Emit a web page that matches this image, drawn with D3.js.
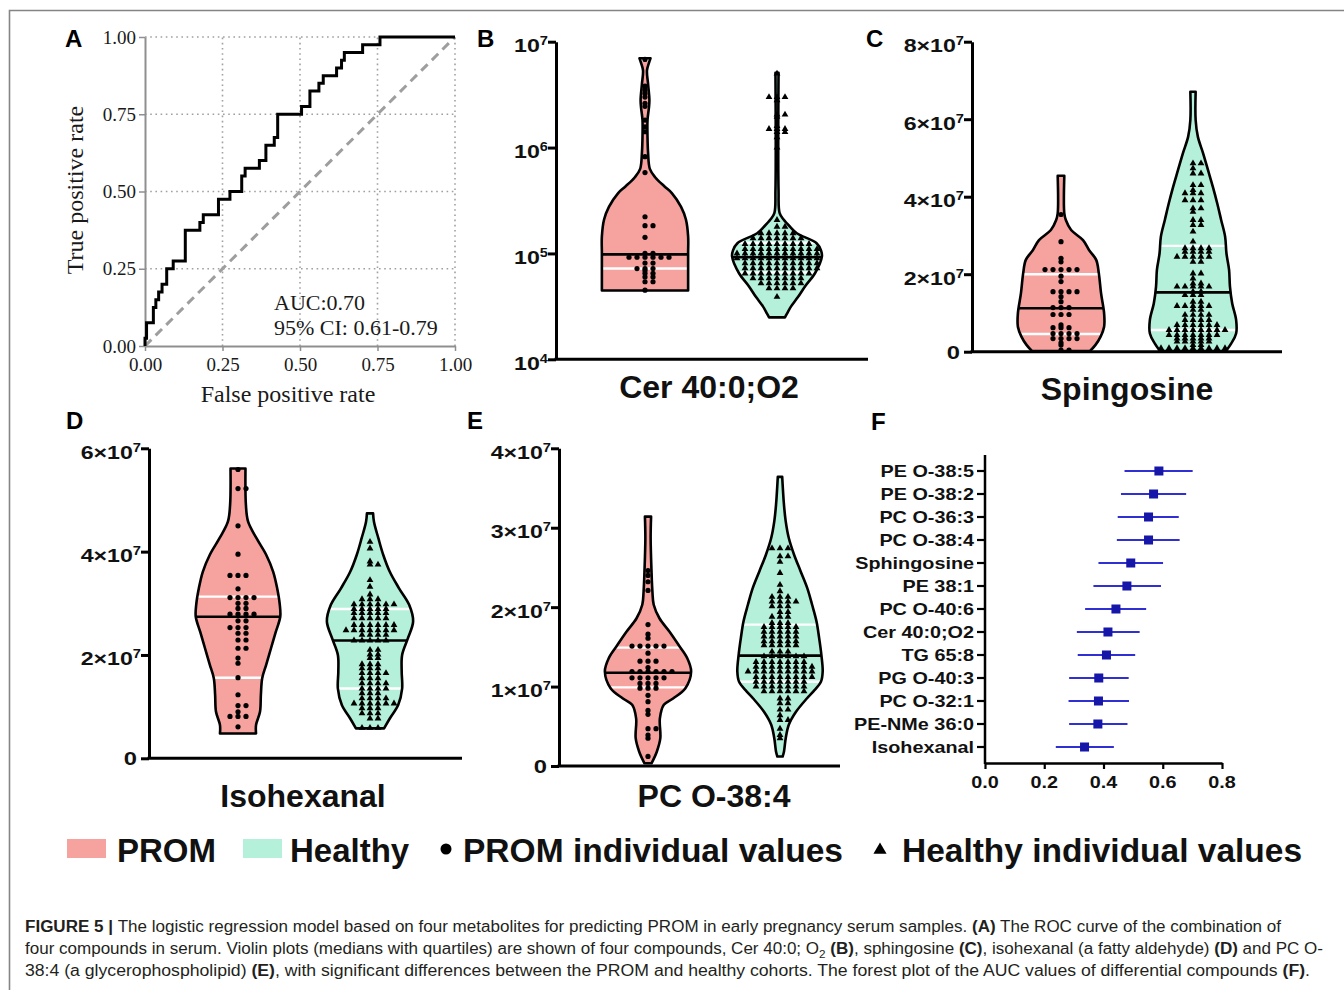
<!DOCTYPE html>
<html>
<head>
<meta charset="utf-8">
<script src="https://cdn.jsdelivr.net/npm/d3@7"></script>
<style>
  body { margin: 0; background: #fff; }
  svg { display: block; }
</style>
</head>
<body>
<svg id="figure" width="1344" height="990"></svg>
<script>
// ---------- data ----------

// A: ROC curve (vertices of the step curve)
const rocFpr = [0, 0, 0.005, 0.027, 0.035, 0.044, 0.055, 0.07, 0.091, 0.13, 0.177, 0.188, 0.237, 0.274, 0.312, 0.323, 0.369, 0.39, 0.417, 0.428, 0.505, 0.532, 0.561, 0.575, 0.618, 0.634, 0.643, 0.702, 0.758, 1];
const rocTpr = [0, 0.025, 0.075, 0.125, 0.15, 0.175, 0.2, 0.25, 0.275, 0.375, 0.4, 0.425, 0.475, 0.5, 0.55, 0.575, 0.6, 0.65, 0.675, 0.75, 0.775, 0.825, 0.85, 0.875, 0.9, 0.925, 0.95, 0.975, 1, 1];
const rocTicks = [0, 0.25, 0.5, 0.75, 1];
const rocNotes = ["AUC:0.70", "95% CI: 0.61-0.79"];

// violin groups
const groups = ["PROM", "Healthy"];

// violin outlines: [value, relative density]; quartiles: [q1, median, q3]; dots: [value, count in row]
// B: Cer 40:0;O2 (log axis)
const cerTicks = [1e4, 1e5, 1e6, 1e7];
const cerShapeProm = [[6.97e6, 0.125], [6.31e6, 0.09], [5.37e6, 0.045], [3.98e6, 0.07], [2.82e6, 0.1], [2.4e6, 0.09], [1.82e6, 0.057], [1.26e6, 0.057], [8.9e5, 0.07], [6.3e5, 0.11], [5.25e5, 0.23], [4.27e5, 0.45], [3.72e5, 0.61], [2.75e5, 0.82], [2.09e5, 0.93], [1.45e5, 0.98], [1.0e5, 0.98], [4.47e4, 0.98]];
const cerShapeHealthy = [[5.09e6, 0.035], [3.98e5, 0.035], [2.4e5, 0.06], [2.09e5, 0.15], [1.78e5, 0.3], [1.55e5, 0.45], [1.25e5, 0.9], [1.07e5, 1.0], [9.33e4, 1.02], [6.46e4, 0.86], [4.9e4, 0.64], [3.89e4, 0.48], [3.16e4, 0.32], [2.72e4, 0.23], [2.49e4, 0.18]];
const cerQuartiles = [[7.2e4, 9.8e4, 6.7e6], [6.6e4, 9.2e4, 1.26e5]];
const cerDotsProm = [[6.8e6, 1], [3.8e6, 1], [3.5e6, 1], [3.25e6, 1], [3.0e6, 1], [2.62e6, 1], [2.45e6, 1], [1.82e6, 1], [1.57e6, 1], [1.41e6, 1], [8.2e5, 1], [5.8e5, 1], [2.22e5, 1], [1.83e5, 2], [1.42e5, 1], [1.0e5, 2], [9.2e4, 6], [8.1e4, 2], [7.2e4, 3], [6.9e4, 1], [6.5e4, 2], [6.0e4, 2], [5.4e4, 2], [4.5e4, 1]];
const cerDotsHealthy = [[5.0e6, 1], [3.0e6, 3], [2.8e6, 1], [2.05e6, 2], [1.95e6, 1], [1.6e6, 1], [1.5e6, 3], [1.4e6, 2], [1.25e6, 1], [1.0e6, 1], [2.07e5, 1], [1.79e5, 2], [1.55e5, 5], [1.39e5, 7], [1.23e5, 9], [1.1e5, 10], [1.0e5, 11], [9.0e4, 11], [8.07e4, 10], [7.24e4, 10], [6.46e4, 9], [5.82e4, 7], [5.22e4, 6], [4.68e4, 4], [3.89e4, 1]];

// C: Spingosine
const spgTicks = [0, 2e7, 4e7, 6e7, 8e7];
const spgShapeProm = [[4.54e7, 0.075], [3.57e7, 0.075], [3.40e7, 0.11], [3.14e7, 0.23], [2.88e7, 0.5], [2.62e7, 0.64], [2.37e7, 0.8], [2.02e7, 0.86], [1.51e7, 0.91], [0.99e7, 0.98], [0.645e7, 0.98], [0.39e7, 0.9], [0.17e7, 0.78], [0.02e7, 0.66]];
const spgShapeHealthy = [[6.71e7, 0.06], [5.98e7, 0.06], [5.55e7, 0.11], [5.12e7, 0.23], [4.69e7, 0.34], [4.26e7, 0.45], [3.83e7, 0.55], [3.40e7, 0.64], [2.97e7, 0.73], [2.54e7, 0.76], [2.11e7, 0.82], [1.68e7, 0.84], [1.25e7, 0.89], [0.82e7, 0.98], [0.47e7, 0.98], [0.215e7, 0.87], [0.02e7, 0.75]];
const spgQuartiles = [[0.456e7, 1.12e7, 2.0e7], [0.56e7, 1.53e7, 2.73e7]];
const spgDotsProm = [[3.54e7, 1], [2.84e7, 1], [2.41e7, 1], [2.32e7, 1], [2.12e7, 5], [1.95e7, 1], [1.81e7, 1], [1.55e7, 4], [1.42e7, 1], [1.29e7, 1], [1.14e7, 3], [0.96e7, 3], [0.69e7, 1], [0.62e7, 3], [0.47e7, 4], [0.34e7, 4], [0.23e7, 1], [0.17e7, 1], [0.04e7, 2]];
const spgDotsHealthy = [[4.86e7, 2], [4.73e7, 1], [4.6e7, 2], [4.30e7, 2], [4.17e7, 1], [4.09e7, 3], [3.91e7, 3], [3.70e7, 2], [3.61e7, 1], [3.40e7, 2], [3.27e7, 2], [3.10e7, 1], [2.84e7, 1], [2.67e7, 4], [2.58e7, 4], [2.45e7, 5], [2.32e7, 2], [2.02e7, 2], [1.89e7, 1], [1.76e7, 2], [1.68e7, 5], [1.55e7, 2], [1.46e7, 3], [1.29e7, 2], [1.18e7, 5], [1.08e7, 2], [0.95e7, 4], [0.82e7, 4], [0.69e7, 6], [0.56e7, 8], [0.43e7, 7], [0.34e7, 5], [0.26e7, 5], [0.17e7, 2], [0.09e7, 9]];

// D: Isohexanal
const isoTicks = [0, 2e7, 4e7, 6e7];
const isoShapeProm = [[5.61e7, 0.17], [4.90e7, 0.18], [4.58e7, 0.23], [4.26e7, 0.42], [3.94e7, 0.64], [3.61e7, 0.8], [3.29e7, 0.89], [2.97e7, 0.95], [2.74e7, 0.96], [2.45e7, 0.86], [2.13e7, 0.75], [1.81e7, 0.64], [1.55e7, 0.55], [1.23e7, 0.52], [0.90e7, 0.5], [0.645e7, 0.41], [0.48e7, 0.41]];
const isoShapeHealthy = [[4.74e7, 0.07], [4.58e7, 0.09], [4.26e7, 0.19], [3.94e7, 0.3], [3.61e7, 0.45], [3.29e7, 0.66], [2.97e7, 0.89], [2.65e7, 0.98], [2.32e7, 0.86], [2.0e7, 0.73], [1.68e7, 0.72], [1.35e7, 0.73], [1.03e7, 0.64], [0.77e7, 0.45], [0.58e7, 0.32]];
const isoQuartiles = [[1.56e7, 2.74e7, 3.13e7], [1.35e7, 2.28e7, 2.89e7]];
const isoDotsProm = [[5.59e7, 1], [5.22e7, 2], [4.50e7, 1], [3.95e7, 1], [3.54e7, 3], [3.28e7, 1], [3.11e7, 4], [3.00e7, 2], [2.90e7, 2], [2.79e7, 4], [2.66e7, 2], [2.53e7, 3], [2.42e7, 2], [2.29e7, 2], [2.13e7, 2], [1.94e7, 1], [1.84e7, 1], [1.56e7, 1], [1.23e7, 1], [1.02e7, 2], [0.90e7, 1], [0.81e7, 3], [0.61e7, 1]];
const isoDotsHealthy = [[4.19e7, 1], [4.06e7, 1], [3.81e7, 1], [3.75e7, 2], [3.45e7, 1], [3.32e7, 1], [3.17e7, 1], [3.08e7, 3], [2.98e7, 6], [2.89e7, 5], [2.81e7, 5], [2.71e7, 5], [2.58e7, 6], [2.48e7, 7], [2.39e7, 4], [2.28e7, 5], [2.10e7, 2], [2.01e7, 2], [1.94e7, 2], [1.82e7, 3], [1.74e7, 3], [1.65e7, 4], [1.55e7, 3], [1.45e7, 4], [1.35e7, 4], [1.26e7, 3], [1.16e7, 4], [1.06e7, 6], [0.97e7, 3], [0.87e7, 3], [0.77e7, 2], [0.59e7, 3]];

// E: PC O-38:4
const pcTicks = [0, 1e7, 2e7, 3e7, 4e7];
const pcShapeProm = [[3.14e7, 0.07], [2.87e7, 0.06], [2.45e7, 0.08], [2.2e7, 0.1], [2.03e7, 0.13], [1.86e7, 0.26], [1.69e7, 0.49], [1.52e7, 0.7], [1.36e7, 0.89], [1.19e7, 0.98], [0.98e7, 0.85], [0.85e7, 0.57], [0.77e7, 0.36], [0.6e7, 0.27], [0.35e7, 0.28], [0.18e7, 0.2], [0.034e7, 0.08]];
const pcShapeHealthy = [[3.64e7, 0.05], [3.29e7, 0.09], [3.08e7, 0.13], [2.87e7, 0.2], [2.66e7, 0.32], [2.45e7, 0.47], [2.24e7, 0.62], [2.03e7, 0.73], [1.82e7, 0.83], [1.61e7, 0.89], [1.40e7, 0.94], [1.19e7, 0.97], [1.06e7, 0.93], [0.94e7, 0.76], [0.85e7, 0.61], [0.68e7, 0.36], [0.52e7, 0.2], [0.35e7, 0.13], [0.18e7, 0.09], [0.12e7, 0.06]];
const pcQuartiles = [[0.99e7, 1.175e7, 1.49e7], [1.06e7, 1.39e7, 1.78e7]];
const pcDotsProm = [[2.46e7, 1], [2.40e7, 1], [2.32e7, 1], [2.21e7, 1], [1.78e7, 1], [1.66e7, 1], [1.61e7, 1], [1.51e7, 5], [1.42e7, 1], [1.32e7, 3], [1.24e7, 1], [1.19e7, 6], [1.11e7, 5], [1.04e7, 3], [0.98e7, 3], [0.89e7, 1], [0.81e7, 1], [0.70e7, 1], [0.65e7, 1], [0.47e7, 2], [0.39e7, 1], [0.35e7, 1], [0.12e7, 1]];
const pcDotsHealthy = [[2.74e7, 3], [2.64e7, 2], [2.57e7, 1], [2.43e7, 1], [2.28e7, 1], [2.20e7, 1], [2.13e7, 3], [2.07e7, 4], [2.01e7, 3], [1.94e7, 2], [1.88e7, 3], [1.80e7, 3], [1.75e7, 5], [1.69e7, 5], [1.63e7, 5], [1.57e7, 5], [1.52e7, 5], [1.44e7, 3], [1.38e7, 6], [1.31e7, 7], [1.25e7, 8], [1.19e7, 9], [1.12e7, 8], [1.06e7, 7], [1.00e7, 7], [0.94e7, 6], [0.85e7, 2], [0.79e7, 2], [0.71e7, 2], [0.64e7, 1], [0.58e7, 2], [0.47e7, 1], [0.39e7, 1], [0.35e7, 1]];

// F: forest plot of AUC values
const forestLabels = ["PE O-38:5", "PE O-38:2", "PC O-36:3", "PC O-38:4", "Sphingosine", "PE 38:1", "PC O-40:6", "Cer 40:0;O2", "TG 65:8", "PG O-40:3", "PC O-32:1", "PE-NMe 36:0", "Isohexanal"];
const forestAuc = [0.587, 0.569, 0.552, 0.552, 0.492, 0.479, 0.442, 0.415, 0.41, 0.384, 0.383, 0.381, 0.336];
const forestLow = [0.471, 0.459, 0.448, 0.445, 0.383, 0.366, 0.338, 0.31, 0.313, 0.284, 0.282, 0.284, 0.239];
const forestHigh = [0.701, 0.679, 0.654, 0.657, 0.601, 0.594, 0.544, 0.522, 0.507, 0.485, 0.486, 0.481, 0.435];
const forestTicks = [0, 0.2, 0.4, 0.6, 0.8];

// legend + caption text
const legendItems = ["PROM", "Healthy", "PROM individual values", "Healthy individual values"];
const captionLines = [
  [["FIGURE 5 | ", "b"], ["The logistic regression model based on four metabolites for predicting PROM in early pregnancy serum samples. "], ["(A)", "b"], [" The ROC curve of the combination of"]],
  [["four compounds in serum. Violin plots (medians with quartiles) are shown of four compounds, Cer 40:0; O"], ["2", "sub"], [" "], ["(B)", "b"], [", sphingosine "], ["(C)", "b"], [", isohexanal (a fatty aldehyde) "], ["(D)", "b"], [" and PC O-"]],
  [["38:4 (a glycerophospholipid) "], ["(E)", "b"], [", with significant differences between the PROM and healthy cohorts. The forest plot of the AUC values of differential compounds "], ["(F)", "b"], ["."]]
];

// ---------- drawing ----------
const svg = d3.select("#figure");
const sans = "'Liberation Sans', Arial, Helvetica, sans-serif";
const serif = "'Liberation Serif', 'Times New Roman', serif";
const groupFill = ["#f6a3a0", "#b5f0da"];

// frame of the figure
svg.append("path")
  .attr("d", "M9.5,990 V10.5 H1344")
  .attr("fill", "none").attr("stroke", "#858585").attr("stroke-width", 1.6);

function panelLetter(t, x, y) {
  svg.append("text").attr("x", x).attr("y", y)
    .attr("font-family", sans).attr("font-weight", "bold").attr("font-size", 24)
    .text(t);
}

// ----- A: ROC -----
{
  const ax = d3.scaleLinear().domain([0, 1]).range([145, 455]);
  const ay = d3.scaleLinear().domain([0, 1]).range([346, 37]);
  const g = svg.append("g");

  // dotted grid
  g.selectAll(".vgrid").data(rocTicks.slice(1)).join("line")
    .attr("x1", d => ax(d)).attr("x2", d => ax(d)).attr("y1", ay(0)).attr("y2", ay(1))
    .attr("stroke", "#a0a0a0").attr("stroke-width", 1.6).attr("stroke-dasharray", "1.6,3.6");
  g.selectAll(".hgrid").data(rocTicks.slice(1)).join("line")
    .attr("x1", ax(0)).attr("x2", ax(1)).attr("y1", d => ay(d)).attr("y2", d => ay(d))
    .attr("stroke", "#a0a0a0").attr("stroke-width", 1.6).attr("stroke-dasharray", "1.6,3.6");

  const fmt = d3.format(".2f");
  const yAxis = g.append("g").attr("transform", `translate(${ax(0)},0)`)
    .call(d3.axisLeft(ay).tickValues(rocTicks).tickFormat(fmt).tickSize(6).tickSizeOuter(0).tickPadding(3));
  const xAxis = g.append("g").attr("transform", `translate(0,${ay(0)})`)
    .call(d3.axisBottom(ax).tickValues(rocTicks).tickFormat(fmt).tickSize(5).tickSizeOuter(0).tickPadding(7));
  [yAxis, xAxis].forEach(a => {
    a.attr("font-family", serif).attr("font-size", 19).attr("color", "#8f8f8f");
    a.select(".domain").attr("stroke-width", 2);
    a.selectAll(".tick line").attr("stroke-width", 1.5);
    a.selectAll(".tick text").attr("fill", "#1a1a1a");
  });

  // chance line
  g.append("line")
    .attr("x1", ax(0)).attr("y1", ay(0)).attr("x2", ax(1)).attr("y2", ay(1))
    .attr("stroke", "#9e9e9e").attr("stroke-width", 3).attr("stroke-dasharray", "9,6");

  // ROC step curve
  const line = d3.line().x(d => ax(d[0])).y(d => ay(d[1])).curve(d3.curveStepAfter);
  g.append("path").attr("d", line(d3.zip(rocFpr, rocTpr)))
    .attr("fill", "none").attr("stroke", "#000").attr("stroke-width", 3);

  g.selectAll(".note").data(rocNotes).join("text")
    .attr("x", 274).attr("y", (d, i) => 310 + i * 25)
    .attr("font-family", serif).attr("font-size", 22).attr("fill", "#1a1a1a")
    .text(d => d);

  g.append("text").attr("x", 288).attr("y", 402).attr("text-anchor", "middle")
    .attr("font-family", serif).attr("font-size", 24).attr("fill", "#1a1a1a")
    .text("False positive rate");
  g.append("text").attr("transform", "translate(83,190) rotate(-90)").attr("text-anchor", "middle")
    .attr("font-family", serif).attr("font-size", 24).attr("fill", "#1a1a1a")
    .text("True positive rate");
  panelLetter("A", 65, 47);
}

// ----- B-E: violin panels -----
const halfWidth = d3.scaleLinear().domain([0, 1]).range([0, 44]);

function drawViolinPanel(p) {
  const y = (p.log ? d3.scaleLog() : d3.scaleLinear()).domain(p.domain).range([p.bottom, p.top]);
  const x = d3.scalePoint().domain(groups).range([p.x0 + 89, p.x0 + 221]);
  const g = svg.append("g");

  p.shapes.forEach((shape, i) => {
    const cx = x(groups[i]);
    const area = d3.area()
      .y(d => y(d[0]))
      .x0(d => cx - halfWidth(d[1]))
      .x1(d => cx + halfWidth(d[1]))
      .curve(d3.curveCatmullRom.alpha(0.5));
    const clipId = `clip-${p.id}-${i}`;
    g.append("clipPath").attr("id", clipId).append("path").attr("d", area(shape));
    g.append("path").attr("d", area(shape)).attr("fill", groupFill[i]);

    const [q1, med, q3] = p.quartiles[i];
    const inner = g.append("g").attr("clip-path", `url(#${clipId})`);
    inner.selectAll(".quart").data([q1, q3]).join("line")
      .attr("x1", cx - 60).attr("x2", cx + 60)
      .attr("y1", d => y(d)).attr("y2", d => y(d))
      .attr("stroke", "#fff").attr("stroke-width", 2.4);
    inner.append("line")
      .attr("x1", cx - 60).attr("x2", cx + 60).attr("y1", y(med)).attr("y2", y(med))
      .attr("stroke", "#000").attr("stroke-width", 2.6);

    g.append("path").attr("d", area(shape))
      .attr("fill", "none").attr("stroke", "#000").attr("stroke-width", 2.6).attr("stroke-linejoin", "round");

    // individual values, spread in rows
    const pts = p.dots[i].flatMap(([v, n]) => d3.range(n).map(k => ({ v, k: k - Math.floor((n - 1) / 2) })));
    if (i === 0) {
      g.selectAll(`.dot${i}`).data(pts).join("circle")
        .attr("cx", d => cx + d.k * 8).attr("cy", d => y(d.v)).attr("r", 2.6).attr("fill", "#000");
    } else {
      const tri = d3.symbol(d3.symbolTriangle, 20);
      g.selectAll(`.tri${i}`).data(pts).join("path")
        .attr("d", tri).attr("transform", d => `translate(${cx + d.k * 8},${y(d.v)})`).attr("fill", "#000");
    }
  });

  // axes
  const yAxis = g.append("g").attr("transform", `translate(${p.x0},0)`)
    .call(d3.axisLeft(y).tickValues(p.ticks).tickFormat("").tickSize(8).tickSizeOuter(0));
  yAxis.attr("color", "#000");
  yAxis.select(".domain").attr("stroke-width", 3);
  yAxis.selectAll(".tick line").attr("stroke-width", 3);
  g.append("line").attr("x1", p.x0 - 1.5).attr("x2", p.xEnd).attr("y1", p.bottom).attr("y2", p.bottom)
    .attr("stroke", "#000").attr("stroke-width", 3);

  // tick labels (the source lettering is wide, hence the horizontal stretch)
  const lab = g.append("g").attr("font-family", sans).attr("font-weight", "bold").attr("font-size", 19).attr("fill", "#111");
  p.ticks.forEach(t => {
    const txt = lab.append("text").attr("text-anchor", "end");
    if (t === 0) {
      txt.attr("transform", `translate(${p.x0 - 12},${y(t) + 7}) scale(1.25,1)`).text("0");
    } else {
      const e = Math.floor(Math.log10(t) + 1e-9);
      const m = Math.round(t / 10 ** e);
      txt.attr("transform", `translate(${p.x0 - 8},${y(t) + 10.5}) scale(1.22,1)`);
      txt.append("tspan").text(p.log ? "10" : `${m}×10`);
      txt.append("tspan").attr("dy", -7).attr("font-size", 12).text(e);
    }
  });

  g.append("text").attr("x", p.labelX).attr("y", p.labelY).attr("text-anchor", "middle")
    .attr("font-family", sans).attr("font-weight", "bold").attr("font-size", 32).attr("fill", "#111")
    .text(p.name);
  panelLetter(p.letter, p.letterX, p.letterY);
}

drawViolinPanel({ id: "b", letter: "B", letterX: 477, letterY: 47, name: "Cer 40:0;O2", labelX: 709, labelY: 398,
  log: true, domain: [1e4, 1e7], ticks: cerTicks, x0: 556, xEnd: 868, top: 41.7, bottom: 359.3,
  shapes: [cerShapeProm, cerShapeHealthy], quartiles: cerQuartiles, dots: [cerDotsProm, cerDotsHealthy] });
drawViolinPanel({ id: "c", letter: "C", letterX: 866, letterY: 47, name: "Spingosine", labelX: 1127, labelY: 400,
  log: false, domain: [0, 8e7], ticks: spgTicks, x0: 972, xEnd: 1282, top: 41.7, bottom: 351.7,
  shapes: [spgShapeProm, spgShapeHealthy], quartiles: spgQuartiles, dots: [spgDotsProm, spgDotsHealthy] });
drawViolinPanel({ id: "d", letter: "D", letterX: 66, letterY: 429, name: "Isohexanal", labelX: 303, labelY: 807,
  log: false, domain: [0, 6e7], ticks: isoTicks, x0: 149, xEnd: 462, top: 448.3, bottom: 758.3,
  shapes: [isoShapeProm, isoShapeHealthy], quartiles: isoQuartiles, dots: [isoDotsProm, isoDotsHealthy] });
drawViolinPanel({ id: "e", letter: "E", letterX: 467, letterY: 429, name: "PC O-38:4", labelX: 714, labelY: 807,
  log: false, domain: [0, 4e7], ticks: pcTicks, x0: 559, xEnd: 840, top: 448.3, bottom: 766,
  shapes: [pcShapeProm, pcShapeHealthy], quartiles: pcQuartiles, dots: [pcDotsProm, pcDotsHealthy] });

// ----- F: forest plot -----
{
  const fx = d3.scaleLinear().domain([0, 0.8]).range([985, 1222]);
  const fy = d3.scalePoint().domain(forestLabels).range([471, 747]);
  const g = svg.append("g");
  const rows = forestLabels.map((l, i) => ({ l, auc: forestAuc[i], lo: forestLow[i], hi: forestHigh[i] }));

  g.append("line").attr("x1", 985).attr("x2", 985).attr("y1", 455).attr("y2", 764)
    .attr("stroke", "#000").attr("stroke-width", 2.5);
  g.selectAll(".ytick").data(forestLabels).join("line")
    .attr("x1", 977).attr("x2", 985).attr("y1", d => fy(d)).attr("y2", d => fy(d))
    .attr("stroke", "#000").attr("stroke-width", 2.2);
  g.selectAll(".ylab").data(forestLabels).join("text")
    .attr("transform", d => `translate(974,${fy(d) + 6}) scale(1.2,1)`)
    .attr("text-anchor", "end").attr("font-family", sans).attr("font-weight", "bold").attr("font-size", 16.5).attr("fill", "#111")
    .text(d => d);

  const xAxis = g.append("g").attr("transform", "translate(0,763)")
    .call(d3.axisBottom(fx).tickValues(forestTicks).tickFormat("").tickSize(6).tickSizeOuter(0));
  xAxis.attr("color", "#000");
  xAxis.select(".domain").attr("stroke-width", 2.5);
  xAxis.selectAll(".tick line").attr("stroke-width", 2.2);
  g.selectAll(".xlab").data(forestTicks).join("text")
    .attr("transform", d => `translate(${fx(d)},788) scale(1.2,1)`)
    .attr("text-anchor", "middle").attr("font-family", sans).attr("font-weight", "bold").attr("font-size", 16.5).attr("fill", "#111")
    .text(d3.format(".1f"));

  g.selectAll(".ci").data(rows).join("line")
    .attr("x1", d => fx(d.lo)).attr("x2", d => fx(d.hi)).attr("y1", d => fy(d.l)).attr("y2", d => fy(d.l))
    .attr("stroke", "#2f2fd4").attr("stroke-width", 2);
  g.selectAll(".pt").data(rows).join("rect")
    .attr("x", d => fx(d.auc) - 4.5).attr("y", d => fy(d.l) - 4.5).attr("width", 9).attr("height", 9)
    .attr("fill", "#1616a8");
  panelLetter("F", 871, 430);
}

// ----- legend -----
{
  const g = svg.append("g").attr("font-family", sans).attr("font-weight", "bold").attr("font-size", 33).attr("fill", "#111");
  g.append("rect").attr("x", 67).attr("y", 839).attr("width", 39).attr("height", 19).attr("fill", groupFill[0]);
  g.append("text").attr("x", 117).attr("y", 862).text(legendItems[0]);
  g.append("rect").attr("x", 243).attr("y", 839).attr("width", 39).attr("height", 19).attr("fill", groupFill[1]);
  g.append("text").attr("x", 290).attr("y", 862).text(legendItems[1]);
  g.append("circle").attr("cx", 446).attr("cy", 849).attr("r", 5.5).attr("fill", "#000");
  g.append("text").attr("x", 463).attr("y", 862)
    .attr("textLength", 380).attr("lengthAdjust", "spacingAndGlyphs").text(legendItems[2]);
  g.append("path").attr("d", d3.symbol(d3.symbolTriangle, 75)).attr("transform", "translate(880,850)").attr("fill", "#000");
  g.append("text").attr("x", 902).attr("y", 862)
    .attr("textLength", 400).attr("lengthAdjust", "spacingAndGlyphs").text(legendItems[3]);
}

// ----- caption -----
{
  const ends = [1281, 1323, 1310];
  const baselines = [931.5, 954, 976];
  captionLines.forEach((segs, li) => {
    const t = svg.append("text").attr("x", 25).attr("y", baselines[li])
      .attr("font-family", sans).attr("font-size", 16).attr("fill", "#231f20")
      .attr("textLength", ends[li] - 25).attr("lengthAdjust", "spacingAndGlyphs");
    let lowered = false;
    segs.forEach(([s, kind]) => {
      const ts = t.append("tspan").text(s);
      if (kind === "b") ts.attr("font-weight", "bold");
      if (kind === "sub") { ts.attr("font-size", 11).attr("dy", 4); lowered = true; }
      else if (lowered) { ts.attr("dy", -4); lowered = false; }
    });
  });
}
</script>
</body>
</html>
